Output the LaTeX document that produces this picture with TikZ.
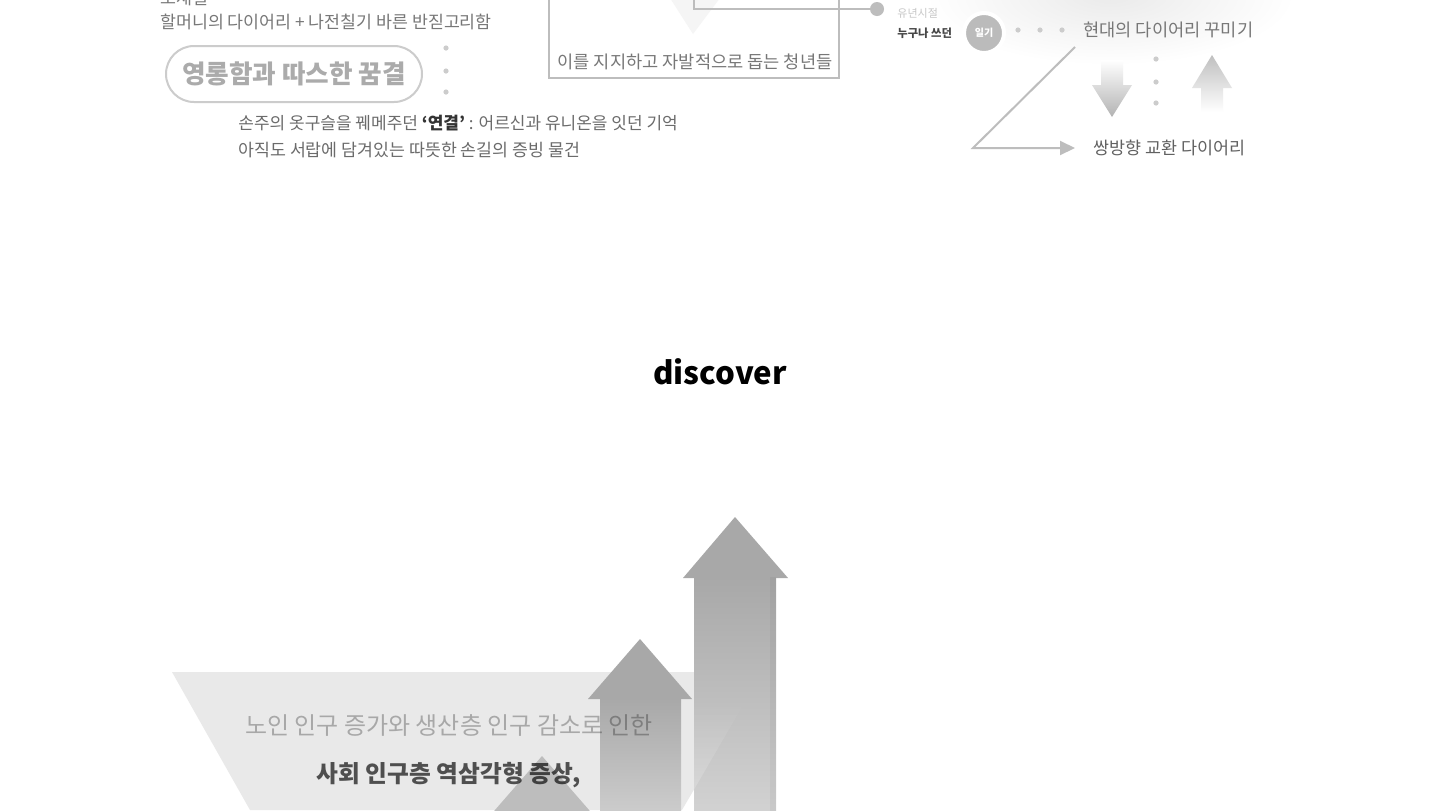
\documentclass[tikz,border=0pt]{standalone}
\usepackage{fontspec}
\setmainfont{Noto Sans CJK KR}
\usetikzlibrary{arrows.meta,fadings}
\definecolor{gtxt}{HTML}{777777}
\definecolor{dtxt}{HTML}{333333}
\definecolor{pillc}{HTML}{CCCCCC}
\definecolor{pilltxt}{HTML}{ABABAB}
\definecolor{dotc}{HTML}{CCCCCC}
\definecolor{boxc}{HTML}{BDBDBD}
\definecolor{faintc}{HTML}{F5F5F5}
\definecolor{cloudc}{HTML}{EAEAEA}
\definecolor{ilgic}{HTML}{BBBBBB}
\definecolor{trapc}{HTML}{E9E9E9}
\definecolor{arrc}{HTML}{A8A8A8}
\definecolor{arrlow}{HTML}{D2D2D2}
\definecolor{smallc}{HTML}{BDBDBD}
\newcommand\pxfont[1]{\fontsize{#1}{#1}\selectfont}
\tikzset{
  txt/.style={inner sep=0pt, text=gtxt, font=\pxfont{8.65pt}},
  pill/.style={draw=pillc, line width=1pt, rounded corners=14pt, minimum width=128pt, minimum height=28pt, inner sep=0pt, text=pilltxt, font=\pxfont{12.8pt}\bfseries},
  boxline/.style={draw=boxc, line width=1pt},
  dotn/.style={circle, fill=dotc, inner sep=0pt, minimum size=2.6pt},
  zline/.style={draw=boxc, line width=1pt},
}
\begin{document}
\begin{tikzpicture}[x=0.5pt,y=-0.5pt]
\useasboundingbox (0,0) rectangle (1440,810);
\clip (0,0) rectangle (1440,810);
\fill[white] (0,0) rectangle (1440,810);

% ---------- top right cloud ----------
\shade[inner color=cloudc, outer color=white] (1110,-5) ellipse (185 and 70);

% ---------- top left ----------
\node[txt, anchor=base west] (t0) at (160,4) {소재질};
\node[txt, anchor=west] (t1) at (160,22) {할머니의 다이어리 + 나전칠기 바른 반짇고리함};
\node[pill] (pill) at (294,74) {영롱함과 따스한 꿈결};
\node[dotn] (d1) at (446,48) {};
\node[dotn] (d2) at (446,71) {};
\node[dotn] (d3) at (446,92) {};
\node[txt, anchor=west, text=gtxt!90!black, font=\pxfont{8.5pt}] (t2) at (238,123) {손주의 옷구슬을 꿰메주던 {\bfseries\color{dtxt}‘연결’} : 어르신과 유니온을 잇던 기억};
\node[txt, anchor=west, text=gtxt!90!black] (t3) at (238,150) {아직도 서랍에 담겨있는 따뜻한 손길의 증빙 물건};

% ---------- top middle ----------
\fill[faintc] (670,-2) -- (720,-2) -- (693,34) -- cycle;
\coordinate (b1) at (549,-5);
\coordinate (b2) at (839,-5);
\draw[boxline] (b1) |- (839,78) -- (b2);
\node[circle, fill=boxc, inner sep=0pt, minimum size=7pt] (c1) at (877,9) {};
\coordinate (b3) at (694,-5);
\draw[boxline] (b3) |- (c1);
\node[txt, font=\pxfont{8.8pt}] (t4) at (695,62) {이를 지지하고 자발적으로 돕는 청년들};

% ---------- top right ----------
\node[txt, anchor=west, text=black!22, font=\pxfont{5.5pt}] (t5) at (897,13) {유년시절};
\node[txt, anchor=west, text=black!72, font=\pxfont{5.65pt}\bfseries] (t6) at (897,33) {누구나 쓰던};
\node[circle, fill=ilgic, draw=white, line width=2pt, minimum size=20pt, inner sep=0pt, text=white, font=\pxfont{5pt}\bfseries] (ilgi) at (984,33) {일기};
\node[dotn] (e1) at (1018,30) {};
\node[dotn] (e2) at (1040,30) {};
\node[dotn] (e3) at (1062,30) {};
\node[txt, anchor=west, font=\pxfont{8.8pt}] (t7) at (1083,30) {현대의 다이어리 꾸미기};
\node[txt, anchor=west, text=black!62, font=\pxfont{8.7pt}] (t8) at (1093,148) {쌍방향 교환 다이어리};
\coordinate (z1) at (1075,47);
\coordinate (z2) at (973,148);
\draw[zline, -{Triangle[length=7.5pt,width=7pt]}, shorten >=9pt] (z1) -- (z2) -- (t8.west |- z2);
% down arrow
\shade[top color=white, bottom color=black!30] (1101,60) -- (1123,60) -- (1123,85) -- (1132,85) -- (1112,117) -- (1092,85) -- (1101,85) -- cycle;
\node[dotn] (f1) at (1156,59) {};
\node[dotn] (f2) at (1156,82) {};
\node[dotn] (f3) at (1156,103) {};
% up arrow
\shade[top color=black!25, bottom color=white] (1212,55) -- (1232,88) -- (1223,88) -- (1223,112) -- (1201,112) -- (1201,88) -- (1192,88) -- cycle;

% ---------- discover ----------
\node[inner sep=0pt, font=\pxfont{15.6pt}\bfseries, text=black] (disc) at (720,372) {discover};

% ---------- bottom ----------
\fill[trapc] (172,672) -- (763,672) -- (682,810) -- (250,810) -- cycle;
% small arrow
\fill[smallc] (542,756) -- (596,818) -- (488,818) -- cycle;
% middle arrow
\fill[arrc] (640,639) -- (692,699) -- (588,699) -- cycle;
\shade[top color=arrc, bottom color=black!20] (600,698) rectangle (681,812);
% big arrow
\fill[arrc] (735,517) -- (788,578) -- (683,578) -- cycle;
\shade[top color=arrc, middle color=arrc, bottom color=arrlow] (694,577) rectangle (776,812);
\fill[black, opacity=0.04] (770,577) rectangle (776,812);
\fill[white, opacity=0.2, path fading=north] (694,789.5) -- (746,700) -- (694,700) -- cycle;
\fill[white, opacity=0.2] (694,789.5) -- (694,810) -- (682,810) -- cycle;

\node[inner sep=0pt, font=\pxfont{12pt}, text=black, text opacity=0.28] (b1t) at (449,725) {노인 인구 증가와 생산층 인구 감소로 인한};
\node[inner sep=0pt, font=\pxfont{11.85pt}\bfseries, text=black, text opacity=0.66] (b2t) at (449,775) {사회 인구층 역삼각형 증상,};
\end{tikzpicture}
\end{document}
